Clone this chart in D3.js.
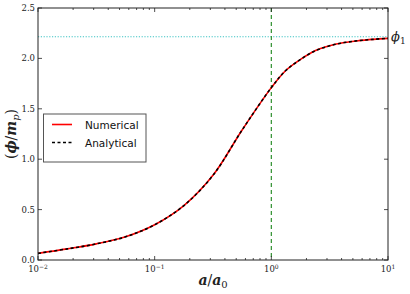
<!DOCTYPE html>
<html><head><meta charset="utf-8">
<script src="https://cdn.jsdelivr.net/npm/d3@7"></script>
<style>body{margin:0;background:#fff}svg{display:block}</style>
</head><body>
<svg id="c" width="410" height="294"></svg>
<script>
const aValues = [0.01, 0.0178, 0.0316, 0.0562, 0.1, 0.178, 0.316, 0.562, 1, 1.33, 1.78, 2.37, 3.16, 4.22, 5.62, 7.5, 10];
const numerical = [0.066, 0.11, 0.16, 0.23, 0.35, 0.54, 0.84, 1.29, 1.71, 1.88, 1.99, 2.075, 2.125, 2.157, 2.176, 2.189, 2.199];
const analytical = [0.066, 0.11, 0.16, 0.23, 0.35, 0.54, 0.84, 1.29, 1.71, 1.88, 1.99, 2.075, 2.125, 2.157, 2.176, 2.189, 2.199];
const phi1 = 2.215;
const aRef = 1;
const xTicks = [0.01, 0.1, 1, 10];
const xTickLabels = ["−2", "−1", "0", "1"];
const yTicks = [0, 0.5, 1.0, 1.5, 2.0, 2.5];
const yTickLabels = ["0.0", "0.5", "1.0", "1.5", "2.0", "2.5"];

const L = 38, R = 388, T = 8, B = 260;
const svg = d3.select("#c");
const x = d3.scaleLog().domain([0.01, 10]).range([L, R]);
const y = d3.scaleLinear().domain([0, 2.5]).range([B, T]);

const serif = "'DejaVu Serif', 'Liberation Serif', serif";

// reference lines
svg.append("line").attr("x1", L).attr("x2", R).attr("y1", y(phi1)).attr("y2", y(phi1))
  .attr("stroke", "#3fc4c4").attr("stroke-width", 1.2).attr("stroke-dasharray", "1.2,1.6");
svg.append("line").attr("x1", x(aRef)).attr("x2", x(aRef)).attr("y1", T).attr("y2", B)
  .attr("stroke", "#2f902f").attr("stroke-width", 1.2).attr("stroke-dasharray", "4,3");

const line = d3.line().x((d, i) => x(aValues[i])).y(d => y(d)).curve(d3.curveCatmullRom.alpha(0.5));
svg.append("path").attr("d", line(numerical)).attr("fill", "none").attr("stroke", "#ff0000").attr("stroke-width", 1.6);
svg.append("path").attr("d", line(analytical)).attr("fill", "none").attr("stroke", "#000").attr("stroke-width", 1.6).attr("stroke-dasharray", "3,2.5");

// frame
svg.append("rect").attr("x", L).attr("y", T).attr("width", R - L).attr("height", B - T)
  .attr("fill", "none").attr("stroke", "#222").attr("stroke-width", 1);

// ticks
const g = svg.append("g").attr("stroke", "#222").attr("stroke-width", 0.8);
const minor = [];
for (let e = -2; e < 1; e++) for (let k = 2; k <= 9; k++) minor.push(k * Math.pow(10, e));
minor.forEach(v => {
  g.append("line").attr("x1", x(v)).attr("x2", x(v)).attr("y1", B).attr("y2", B - 2);
  g.append("line").attr("x1", x(v)).attr("x2", x(v)).attr("y1", T).attr("y2", T + 2);
});
xTicks.forEach(v => {
  g.append("line").attr("x1", x(v)).attr("x2", x(v)).attr("y1", B).attr("y2", B - 4);
  g.append("line").attr("x1", x(v)).attr("x2", x(v)).attr("y1", T).attr("y2", T + 4);
});
yTicks.forEach(v => {
  g.append("line").attr("x1", L).attr("x2", L + 4).attr("y1", y(v)).attr("y2", y(v));
  g.append("line").attr("x1", R).attr("x2", R - 4).attr("y1", y(v)).attr("y2", y(v));
});

// tick labels
xTicks.forEach((v, i) => {
  const t = svg.append("text").attr("x", x(v)).attr("y", B + 12).attr("text-anchor", "middle")
    .attr("font-family", serif).attr("font-size", 8.5).attr("fill", "#222");
  t.append("tspan").text("10");
  t.append("tspan").attr("dy", -3.5).attr("font-size", 6).text(xTickLabels[i]);
});
yTicks.forEach((v, i) => {
  svg.append("text").attr("x", L - 3).attr("y", y(v) + 3).attr("text-anchor", "end")
    .attr("font-family", serif).attr("font-size", 8.5).attr("fill", "#222").text(yTickLabels[i]);
});

// axis labels
const xl = svg.append("text").attr("x", 213).attr("y", 285).attr("text-anchor", "middle")
  .attr("font-family", serif).attr("font-size", 14).attr("font-style", "italic").attr("font-weight", "bold").attr("fill", "#222");
xl.append("tspan").text("a");
xl.append("tspan").attr("font-style", "normal").attr("font-weight", "normal").text("/");
xl.append("tspan").text("a");
xl.append("tspan").attr("dy", 3).attr("font-size", 10).attr("font-style", "normal").attr("font-weight", "normal").text("0");

const yl = svg.append("text").attr("transform", "translate(16,134) rotate(-90)").attr("text-anchor", "middle")
  .attr("font-family", serif).attr("font-size", 14).attr("fill", "#222");
yl.append("tspan").text("(");
yl.append("tspan").attr("font-style", "italic").attr("font-weight", "bold").text("ϕ");
yl.append("tspan").text("/");
yl.append("tspan").attr("font-style", "italic").attr("font-weight", "bold").text("m");
yl.append("tspan").attr("dy", 3).attr("font-size", 10).attr("font-style", "italic").text("p");
yl.append("tspan").attr("dy", -3).text(")");

// phi1 label
const pl = svg.append("text").attr("x", 391).attr("y", y(phi1) + 4).attr("font-family", serif)
  .attr("font-size", 13).attr("fill", "#222");
pl.append("tspan").attr("font-style", "italic").text("ϕ");
pl.append("tspan").attr("dy", 3).attr("font-size", 9).text("1");

// legend
const lg = svg.append("g");
lg.append("rect").attr("x", 43.5).attr("y", 114).attr("width", 102.5).attr("height", 48)
  .attr("fill", "#fff").attr("stroke", "#555").attr("stroke-width", 1);
lg.append("line").attr("x1", 52).attr("x2", 72).attr("y1", 124.5).attr("y2", 124.5).attr("stroke", "#f00").attr("stroke-width", 1.6);
lg.append("line").attr("x1", 52).attr("x2", 72).attr("y1", 142.5).attr("y2", 142.5).attr("stroke", "#000").attr("stroke-width", 1.6).attr("stroke-dasharray", "3,2.5");
lg.append("text").attr("x", 85).attr("y", 128.5).attr("font-family", "'DejaVu Sans', sans-serif").attr("font-size", 10.5).attr("fill", "#111").text("Numerical");
lg.append("text").attr("x", 85).attr("y", 146.5).attr("font-family", "'DejaVu Sans', sans-serif").attr("font-size", 10.5).attr("fill", "#111").text("Analytical");
</script>
</body></html>
